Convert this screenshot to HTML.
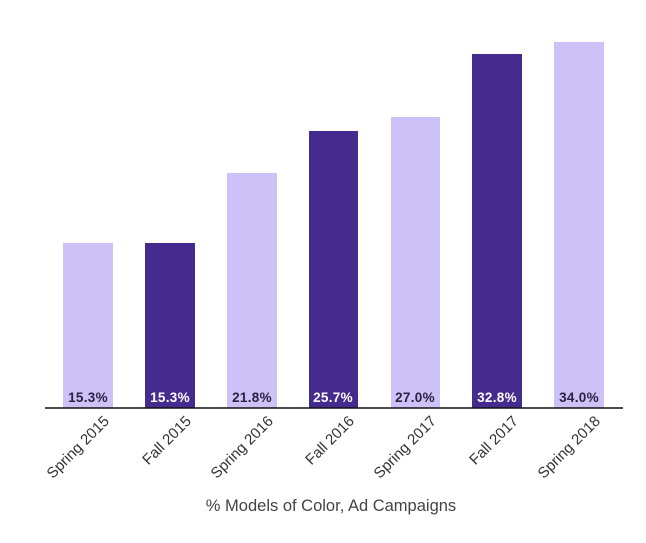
<!DOCTYPE html>
<html><head><style>body{margin:0;background:#fff}svg{display:block}</style></head><body>
<svg width="646" height="543" xmlns="http://www.w3.org/2000/svg" font-family="Liberation Sans, sans-serif">
<rect width="646" height="543" fill="#fff"/>
<g>
<rect x="63" y="243" width="50" height="165" fill="#cdc1f8"/>
<rect x="145" y="243" width="50" height="165" fill="#462b8f"/>
<rect x="227" y="173" width="50" height="235" fill="#cdc1f8"/>
<rect x="309" y="131" width="49" height="277" fill="#462b8f"/>
<rect x="391" y="117" width="49" height="291" fill="#cdc1f8"/>
<rect x="472" y="54" width="50" height="354" fill="#462b8f"/>
<rect x="554" y="42" width="50" height="366" fill="#cdc1f8"/>
</g>
<line x1="45" y1="408" x2="623" y2="408" stroke="#111" stroke-width="1.5"/>
<g font-size="13.5" font-weight="bold" text-anchor="middle" letter-spacing="0.3">
<text x="88" y="402" fill="#2a2340">15.3%</text>
<text x="170" y="402" fill="#fff">15.3%</text>
<text x="252" y="402" fill="#2a2340">21.8%</text>
<text x="333" y="402" fill="#fff">25.7%</text>
<text x="415" y="402" fill="#2a2340">27.0%</text>
<text x="497" y="402" fill="#fff">32.8%</text>
<text x="579" y="402" fill="#2a2340">34.0%</text>
</g>
<g font-size="15" text-anchor="end" fill="#333">
<text transform="translate(110,422) rotate(-45)">Spring 2015</text>
<text transform="translate(192,422) rotate(-45)">Fall 2015</text>
<text transform="translate(274,422) rotate(-45)">Spring 2016</text>
<text transform="translate(355,422) rotate(-45)">Fall 2016</text>
<text transform="translate(437,422) rotate(-45)">Spring 2017</text>
<text transform="translate(519,422) rotate(-45)">Fall 2017</text>
<text transform="translate(601,422) rotate(-45)">Spring 2018</text>
</g>
<text x="331" y="511" font-size="16.5" text-anchor="middle" fill="#444">% Models of Color, Ad Campaigns</text>
</svg>
</body></html>
